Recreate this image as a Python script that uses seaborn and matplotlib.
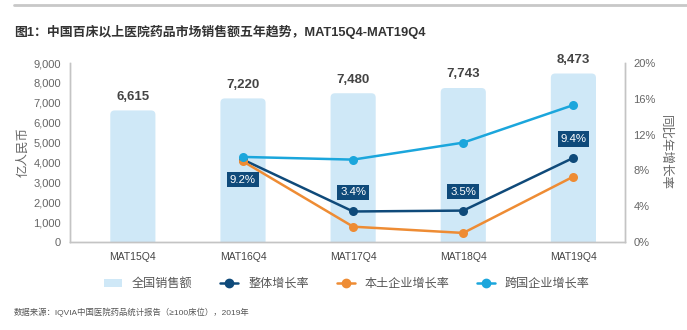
import numpy as np
import pandas as pd
import seaborn as sns
import matplotlib
matplotlib.use("Agg")
import matplotlib.pyplot as plt
from matplotlib.patches import FancyBboxPatch
from matplotlib.lines import Line2D
from matplotlib.ticker import FuncFormatter, MultipleLocator

# Data
periods = ["MAT15Q4", "MAT16Q4", "MAT17Q4", "MAT18Q4", "MAT19Q4"]
sales = [6615, 7220, 7480, 7743, 8473]              # 亿人民币
growth_total = [np.nan, 9.2, 3.4, 3.5, 9.4]          # %
growth_local = [np.nan, 9.0, 1.7, 1.0, 7.3]          # %
growth_mnc = [np.nan, 9.5, 9.2, 11.1, 15.3]          # %

series_names = ["整体增长率", "本土企业增长率", "跨国企业增长率"]
bar_name = "全国销售额"

sns.set_theme(style="white")
FONTS = ["Liberation Sans", "Noto Sans CJK SC", "DejaVu Sans"]
plt.rcParams["font.family"] = FONTS

BAR_C = "#cfe8f7"
NAVY = "#0f4a7a"
ORANGE = "#ee8c34"
CYAN = "#1ba6dc"
TXT = "#666666"
SPINE = "#c4c4c4"

fig = plt.figure(figsize=(6.87, 3.30), dpi=100)
fig.patch.set_facecolor("white")
ax = fig.add_axes([0.102, 0.267, 0.808, 0.542])

df_bar = pd.DataFrame({"period": periods, "sales": sales})
sns.barplot(data=df_bar, x="period", y="sales", color=BAR_C, width=0.41,
            saturation=1, ax=ax, zorder=1)

ax.set_ylim(0, 9000)
ax.set_xlim(-0.57, 4.47)

# round the top corners of each bar (bottom corners hidden below the axis)
for p in list(ax.patches):
    x0, y0 = p.get_x(), p.get_y()
    w, h = p.get_width(), p.get_height()
    p.set_visible(False)
    fb = FancyBboxPatch((x0, y0 - 400), w, h + 400,
                        boxstyle="round,pad=0,rounding_size=0.04",
                        mutation_aspect=5500,
                        facecolor=BAR_C, edgecolor="none", zorder=1)
    ax.add_patch(fb)
    ax.text(x0 + w / 2, y0 + h + 380, f"{int(h):,}", ha="center", va="bottom",
            fontsize=9.5, fontweight="bold", color="#444444")

ax.yaxis.set_major_locator(MultipleLocator(1000))
ax.yaxis.set_major_formatter(FuncFormatter(lambda v, _: f"{int(v):,}"))
ax.set_xlabel("")
ax.set_ylabel("亿人民币", color=TXT, fontsize=9, labelpad=3)
ax.tick_params(axis="y", colors=TXT, labelsize=8, length=0, pad=6.5)
ax.tick_params(axis="x", colors="#444444", labelsize=7.5, length=0, pad=7)

# growth lines on the secondary axis
ax2 = ax.twinx()
df_line = pd.DataFrame({
    "pos": list(range(len(periods))) * 3,
    "growth": growth_total + growth_local + growth_mnc,
    "series": [s for s in series_names for _ in periods],
}).dropna()
sns.lineplot(data=df_line, x="pos", y="growth", hue="series",
             hue_order=series_names, palette=[NAVY, ORANGE, CYAN],
             marker="o", markersize=6.5, markeredgewidth=0, linewidth=1.8,
             ax=ax2, legend=False, zorder=3)
ax2.set_ylim(0, 20)
ax2.set_xlim(ax.get_xlim())
ax2.yaxis.set_major_locator(MultipleLocator(4))
ax2.yaxis.set_major_formatter(FuncFormatter(lambda v, _: f"{int(v)}%"))
ax2.set_ylabel("同比年增长率", color=TXT, fontsize=9, rotation=-90, labelpad=11)
ax2.set_xlabel("")
ax2.tick_params(axis="y", colors=TXT, labelsize=8, length=0, pad=6)

# value tags for the overall growth
offsets = {1: -20, 2: 19, 3: 19, 4: 19}
for i, v in enumerate(growth_total):
    if np.isnan(v):
        continue
    ax2.annotate(f"{v:.1f}%", (i, v), xytext=(0, offsets[i] * 0.72),
                 textcoords="offset points", ha="center", va="center",
                 fontsize=8.2, color="white", zorder=5,
                 bbox=dict(boxstyle="square,pad=0.25", facecolor=NAVY,
                           edgecolor="none"))

for a in (ax, ax2):
    a.spines["top"].set_visible(False)
    for s in ("left", "right", "bottom"):
        a.spines[s].set_color(SPINE)
        a.spines[s].set_linewidth(1.0)

# legend
handles = [
    plt.Rectangle((0, 0), 1, 1, facecolor=BAR_C, edgecolor="none"),
    Line2D([], [], color=NAVY, marker="o", markersize=6, linewidth=1.8),
    Line2D([], [], color=ORANGE, marker="o", markersize=6, linewidth=1.8),
    Line2D([], [], color=CYAN, marker="o", markersize=6, linewidth=1.8),
]
fig.legend(handles, [bar_name] + series_names, loc="center",
           bbox_to_anchor=(0.505, 0.139), ncol=4, frameon=False,
           fontsize=8.7, labelcolor="#555555", handlelength=1.5,
           handletextpad=0.8, columnspacing=2.3)

# title, rule and source
fig.add_artist(Line2D([0.02, 1.0], [0.985, 0.985], color="#c8c8c8",
                      linewidth=2, transform=fig.transFigure))
fig.text(0.02, 0.903, "图1：中国百床以上医院药品市场销售额五年趋势，MAT15Q4-MAT19Q4",
         fontsize=9.3, fontweight="bold", color="#333333", va="center")
fig.text(0.02, 0.055, "数据来源：IQVIA中国医院药品统计报告（≥100床位），2019年",
         fontsize=6, color="#555555", va="center")

fig.savefig("out.png", dpi=100, facecolor="white")
